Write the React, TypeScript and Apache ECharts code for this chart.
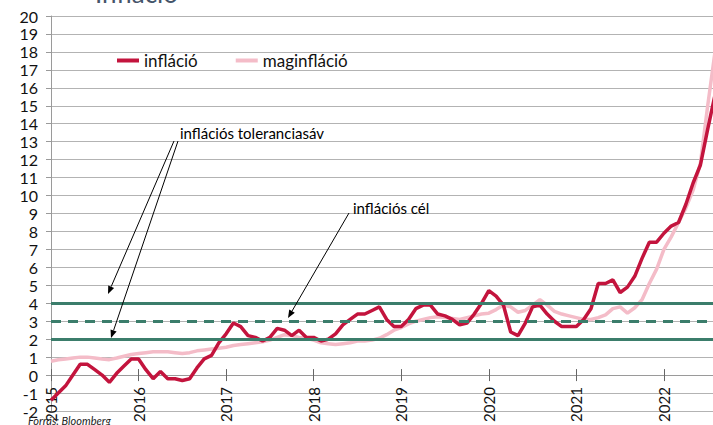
import React, { useEffect, useRef } from "react";
import * as echarts from "echarts";

const years = [2015, 2016, 2017, 2018, 2019, 2020, 2021, 2022];
const monthNames = ["01", "02", "03", "04", "05", "06", "07", "08", "09", "10", "11", "12"];
const lastYearMonths = 8;

const categories: string[] = [];
years.forEach((y, yi) => {
  const n = yi === years.length - 1 ? lastYearMonths : 12;
  for (let m = 0; m < n; m++) categories.push(`${y}-${monthNames[m]}`);
});

// infláció (%), monthly
const inflacio = [
  -1.4, -1.0, -0.6, 0.0, 0.6, 0.6, 0.3, 0.0, -0.4, 0.1, 0.5, 0.9,
  0.9, 0.3, -0.2, 0.2, -0.2, -0.2, -0.3, -0.2, 0.4, 0.9, 1.1, 1.8,
  2.3, 2.9, 2.7, 2.2, 2.1, 1.9, 2.1, 2.6, 2.5, 2.2, 2.5, 2.1,
  2.1, 1.9, 2.0, 2.3, 2.8, 3.1, 3.4, 3.4, 3.6, 3.8, 3.1, 2.7,
  2.7, 3.1, 3.7, 3.9, 3.9, 3.4, 3.3, 3.1, 2.8, 2.9, 3.4, 4.0,
  4.7, 4.4, 3.9, 2.4, 2.2, 2.9, 3.8, 3.9, 3.4, 3.0, 2.7, 2.7,
  2.7, 3.1, 3.7, 5.1, 5.1, 5.3, 4.6, 4.9, 5.5, 6.5, 7.4, 7.4,
  7.9, 8.3, 8.5, 9.5, 10.7, 11.7, 13.7, 15.6,
];

// maginfláció (%), monthly
const maginflacio = [
  0.77, 0.85, 0.9, 0.95, 1.0, 1.0, 0.95, 0.9, 0.86, 0.95, 1.05, 1.15,
  1.2, 1.25, 1.3, 1.3, 1.3, 1.25, 1.2, 1.25, 1.35, 1.4, 1.45, 1.5,
  1.55, 1.65, 1.7, 1.75, 1.8, 1.85, 1.95, 2.1, 2.25, 2.2, 2.1, 2.05,
  1.95, 1.8, 1.75, 1.7, 1.75, 1.8, 1.9, 1.9, 1.95, 2.05, 2.25, 2.5,
  2.65, 2.85, 3.0, 3.1, 3.2, 3.25, 3.2, 3.15, 3.1, 3.2, 3.3, 3.4,
  3.45, 3.65, 3.9, 3.8, 3.5, 3.6, 3.9, 4.2, 3.9, 3.55, 3.4, 3.3,
  3.2, 3.1, 3.1, 3.2, 3.35, 3.7, 3.8, 3.45, 3.75, 4.2, 5.1, 5.9,
  7.0, 7.7, 8.5, 9.3, 10.3, 11.8, 15.0, 18.0,
];

// inflációs cél és toleranciasáv
const targetValue = 3;
const toleranceBand = [2, 4];

// y axis range
const yMin = -2;
const yMax = 20;

const W = 713;
const H = 425;
const GRID_TOP = 16;
const GRID_BOTTOM = 14;
const plotH = H - GRID_TOP - GRID_BOTTOM;
const zeroY = GRID_TOP + (plotH * yMax) / (yMax - yMin);
const bottomOffset = zeroY - (H - GRID_BOTTOM); // negative: move axis up to value 0
const topOffset = -(zeroY - GRID_TOP); // negative: move top axis down to value 0

const FONT = "Lato, 'Noto Sans', sans-serif";
const GREEN = "#3b7d6b";
const RED = "#c3143d";
const PINK = "#f4bcc8";

function arrow(x1: number, y1: number, x2: number, y2: number) {
  const dx = x2 - x1;
  const dy = y2 - y1;
  const len = Math.hypot(dx, dy);
  const ux = dx / len;
  const uy = dy / len;
  const hl = 8;
  const hw = 3.2;
  const bx = x2 - ux * hl;
  const by = y2 - uy * hl;
  return [
    {
      type: "line",
      z: 100,
      shape: { x1, y1, x2: bx, y2: by },
      style: { stroke: "#000", lineWidth: 1 },
    },
    {
      type: "polygon",
      z: 100,
      shape: {
        points: [
          [x2, y2],
          [bx - uy * hw, by + ux * hw],
          [bx + uy * hw, by - ux * hw],
        ],
      },
      style: { fill: "#000" },
    },
  ];
}

export default function App() {
  const ref = useRef<HTMLDivElement>(null);

  useEffect(() => {
    if (!ref.current) return;
    const chart = echarts.init(ref.current, null, { renderer: "svg" });
    const option: any = {
      animation: false,
      backgroundColor: "#fff",
      textStyle: { fontFamily: FONT },
      grid: {
        left: 51,
        right: -2,
        top: GRID_TOP,
        bottom: GRID_BOTTOM,
        containLabel: false,
        outerBoundsMode: "none",
      },
      legend: {
        data: ["infláció", "maginfláció"],
        left: 117,
        top: 52,
        padding: 0,
        icon: "rect",
        itemWidth: 22,
        itemHeight: 4,
        itemGap: 38,
        textStyle: { fontSize: 17, color: "#111", fontFamily: FONT },
      },
      xAxis: [
        {
          type: "category",
          position: "bottom",
          offset: bottomOffset,
          data: categories,
          boundaryGap: false,
          axisLine: { onZero: false, lineStyle: { color: "#9a9a9a", width: 1 } },
          axisTick: { show: true, interval: 11, length: 6, lineStyle: { color: "#666" } },
          axisLabel: {
            interval: 11,
            rotate: 90,
            margin: 12,
            fontSize: 15,
            color: "#111",
            fontFamily: FONT,
            formatter: (v: string) => v.slice(0, 4),
          },
          splitLine: { show: false },
        },
        {
          type: "category",
          position: "top",
          offset: topOffset,
          data: categories,
          boundaryGap: false,
          axisLine: { show: false, onZero: false },
          axisTick: { show: true, interval: 11, length: 6, lineStyle: { color: "#666" } },
          axisLabel: { show: false },
          splitLine: { show: false },
        },
      ],
      yAxis: {
        type: "value",
        min: yMin,
        max: yMax,
        interval: 1,
        axisLine: { show: true, lineStyle: { color: "#9a9a9a" } },
        axisTick: { show: true, length: 5, lineStyle: { color: "#9a9a9a" } },
        axisLabel: { fontSize: 16, color: "#111", margin: 13, fontFamily: FONT },
        splitLine: { show: true, lineStyle: { color: "#b3b3b3", width: 1 } },
      },
      series: [
        {
          name: "band",
          type: "line",
          data: [],
          z: 1,
          silent: true,
          markLine: {
            silent: true,
            symbol: "none",
            label: { show: false },
            emphasis: { disabled: true },
            data: [
              { yAxis: toleranceBand[1], lineStyle: { color: GREEN, width: 3, type: "solid" } },
              { yAxis: targetValue, lineStyle: { color: GREEN, width: 3, type: [10, 7] } },
              { yAxis: toleranceBand[0], lineStyle: { color: GREEN, width: 3, type: "solid" } },
            ],
          },
        },
        {
          name: "maginfláció",
          type: "line",
          data: maginflacio,
          showSymbol: false,
          symbol: "none",
          z: 2,
          lineStyle: { color: PINK, width: 3.5 },
          itemStyle: { color: PINK },
        },
        {
          name: "infláció",
          type: "line",
          data: inflacio,
          showSymbol: false,
          symbol: "none",
          z: 3,
          lineStyle: { color: RED, width: 3.5 },
          itemStyle: { color: RED },
        },
      ],
      graphic: [
        {
          type: "text",
          left: 95,
          top: -20,
          z: 100,
          style: { text: "Infláció", fontSize: 26, fill: "#44546a", fontFamily: FONT },
        },
        {
          type: "text",
          x: 180,
          y: 133,
          z: 100,
          style: {
            text: "inflációs toleranciasáv",
            fontSize: 15,
            fill: "#000",
            fontFamily: FONT,
            verticalAlign: "middle",
          },
        },
        {
          type: "text",
          x: 353,
          y: 208,
          z: 100,
          style: {
            text: "inflációs cél",
            fontSize: 15,
            fill: "#000",
            fontFamily: FONT,
            verticalAlign: "middle",
          },
        },
        ...arrow(174, 141, 108, 294),
        ...arrow(178, 141, 111, 338),
        ...arrow(349, 213, 288, 318),
        {
          type: "text",
          x: 28,
          y: 420,
          z: 100,
          style: {
            text: "Forrás: Bloomberg",
            fontSize: 11,
            fontStyle: "italic",
            fill: "#222",
            fontFamily: FONT,
            verticalAlign: "middle",
          },
        },
      ],
    };
    chart.setOption(option);
    return () => chart.dispose();
  }, []);

  return (
    <div
      ref={ref}
      style={{ position: "absolute", left: 0, top: 0, width: W, height: H, overflow: "hidden" }}
    />
  );
}
